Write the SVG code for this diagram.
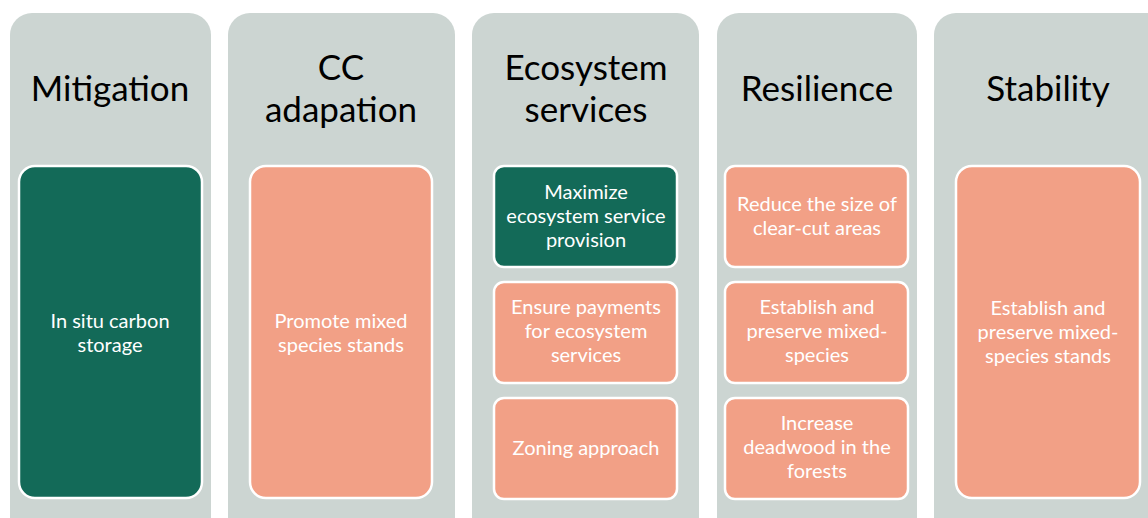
<svg xmlns="http://www.w3.org/2000/svg" width="1148" height="518" viewBox="0 0 1148 518">
<style>
.col{fill:#CCD5D2}
.title{font-family:Lato,"Noto Sans",sans-serif;font-size:35px;fill:#000;text-anchor:middle}
.box{stroke:#fff;stroke-width:2.5}
.g{fill:#136A58}
.s{fill:#F2A086}
.t{font-family:Lato,"Noto Sans",sans-serif;font-size:20px;fill:#fff;text-anchor:middle}
</style>
<rect width="1148" height="518" fill="#fff"/>
<g id="mitigation">
<rect class="col" x="10" y="13" width="201" height="530" rx="22"/>
<text class="title" x="110" y="101">Mitigation</text>
<g id="mitigation-1"><rect class="box g" x="19" y="166" width="183" height="332" rx="16"/>
<text class="t" x="110" y="328">In situ carbon</text><text class="t" x="110" y="352">storage</text></g>
</g>
<g id="cc-adaptation">
<rect class="col" x="228" y="13" width="227" height="530" rx="22"/>
<text class="title" x="341" y="80">CC</text>
<text class="title" x="341" y="122">adapation</text>
<g id="cc-1"><rect class="box s" x="250" y="166" width="182" height="332" rx="16"/>
<text class="t" x="341" y="328">Promote mixed</text><text class="t" x="341" y="352">species stands</text></g>
</g>
<g id="ecosystem-services">
<rect class="col" x="472" y="13" width="227" height="530" rx="22"/>
<text class="title" x="586" y="80">Ecosystem</text>
<text class="title" x="586" y="122">services</text>
<g id="es-1"><rect class="box g" x="494" y="166" width="183" height="101" rx="10"/>
<text class="t" x="586" y="199">Maximize</text><text class="t" x="586" y="223">ecosystem service</text><text class="t" x="586" y="247">provision</text></g>
<g id="es-2"><rect class="box s" x="494" y="282" width="183" height="101" rx="10"/>
<text class="t" x="586" y="314">Ensure payments</text><text class="t" x="586" y="338">for ecosystem</text><text class="t" x="586" y="362">services</text></g>
<g id="es-3"><rect class="box s" x="494" y="398" width="183" height="101" rx="10"/>
<text class="t" x="586" y="455">Zoning approach</text></g>
</g>
<g id="resilience">
<rect class="col" x="717" y="13" width="200" height="530" rx="22"/>
<text class="title" x="817" y="101">Resilience</text>
<g id="res-1"><rect class="box s" x="725" y="166" width="183" height="101" rx="10"/>
<text class="t" x="817" y="211">Reduce the size of</text><text class="t" x="817" y="235">clear-cut areas</text></g>
<g id="res-2"><rect class="box s" x="725" y="282" width="183" height="101" rx="10"/>
<text class="t" x="817" y="314">Establish and</text><text class="t" x="817" y="338">preserve mixed-</text><text class="t" x="817" y="362">species</text></g>
<g id="res-3"><rect class="box s" x="725" y="398" width="183" height="101" rx="10"/>
<text class="t" x="817" y="430">Increase</text><text class="t" x="817" y="454">deadwood in the</text><text class="t" x="817" y="478">forests</text></g>
</g>
<g id="stability">
<rect class="col" x="934" y="13" width="240" height="530" rx="22"/>
<text class="title" x="1048" y="101">Stability</text>
<g id="stab-1"><rect class="box s" x="956" y="166" width="184" height="332" rx="16"/>
<text class="t" x="1048" y="315">Establish and</text><text class="t" x="1048" y="339">preserve mixed-</text><text class="t" x="1048" y="363">species stands</text></g>
</g>
<g id="connectors"/>
</svg>
